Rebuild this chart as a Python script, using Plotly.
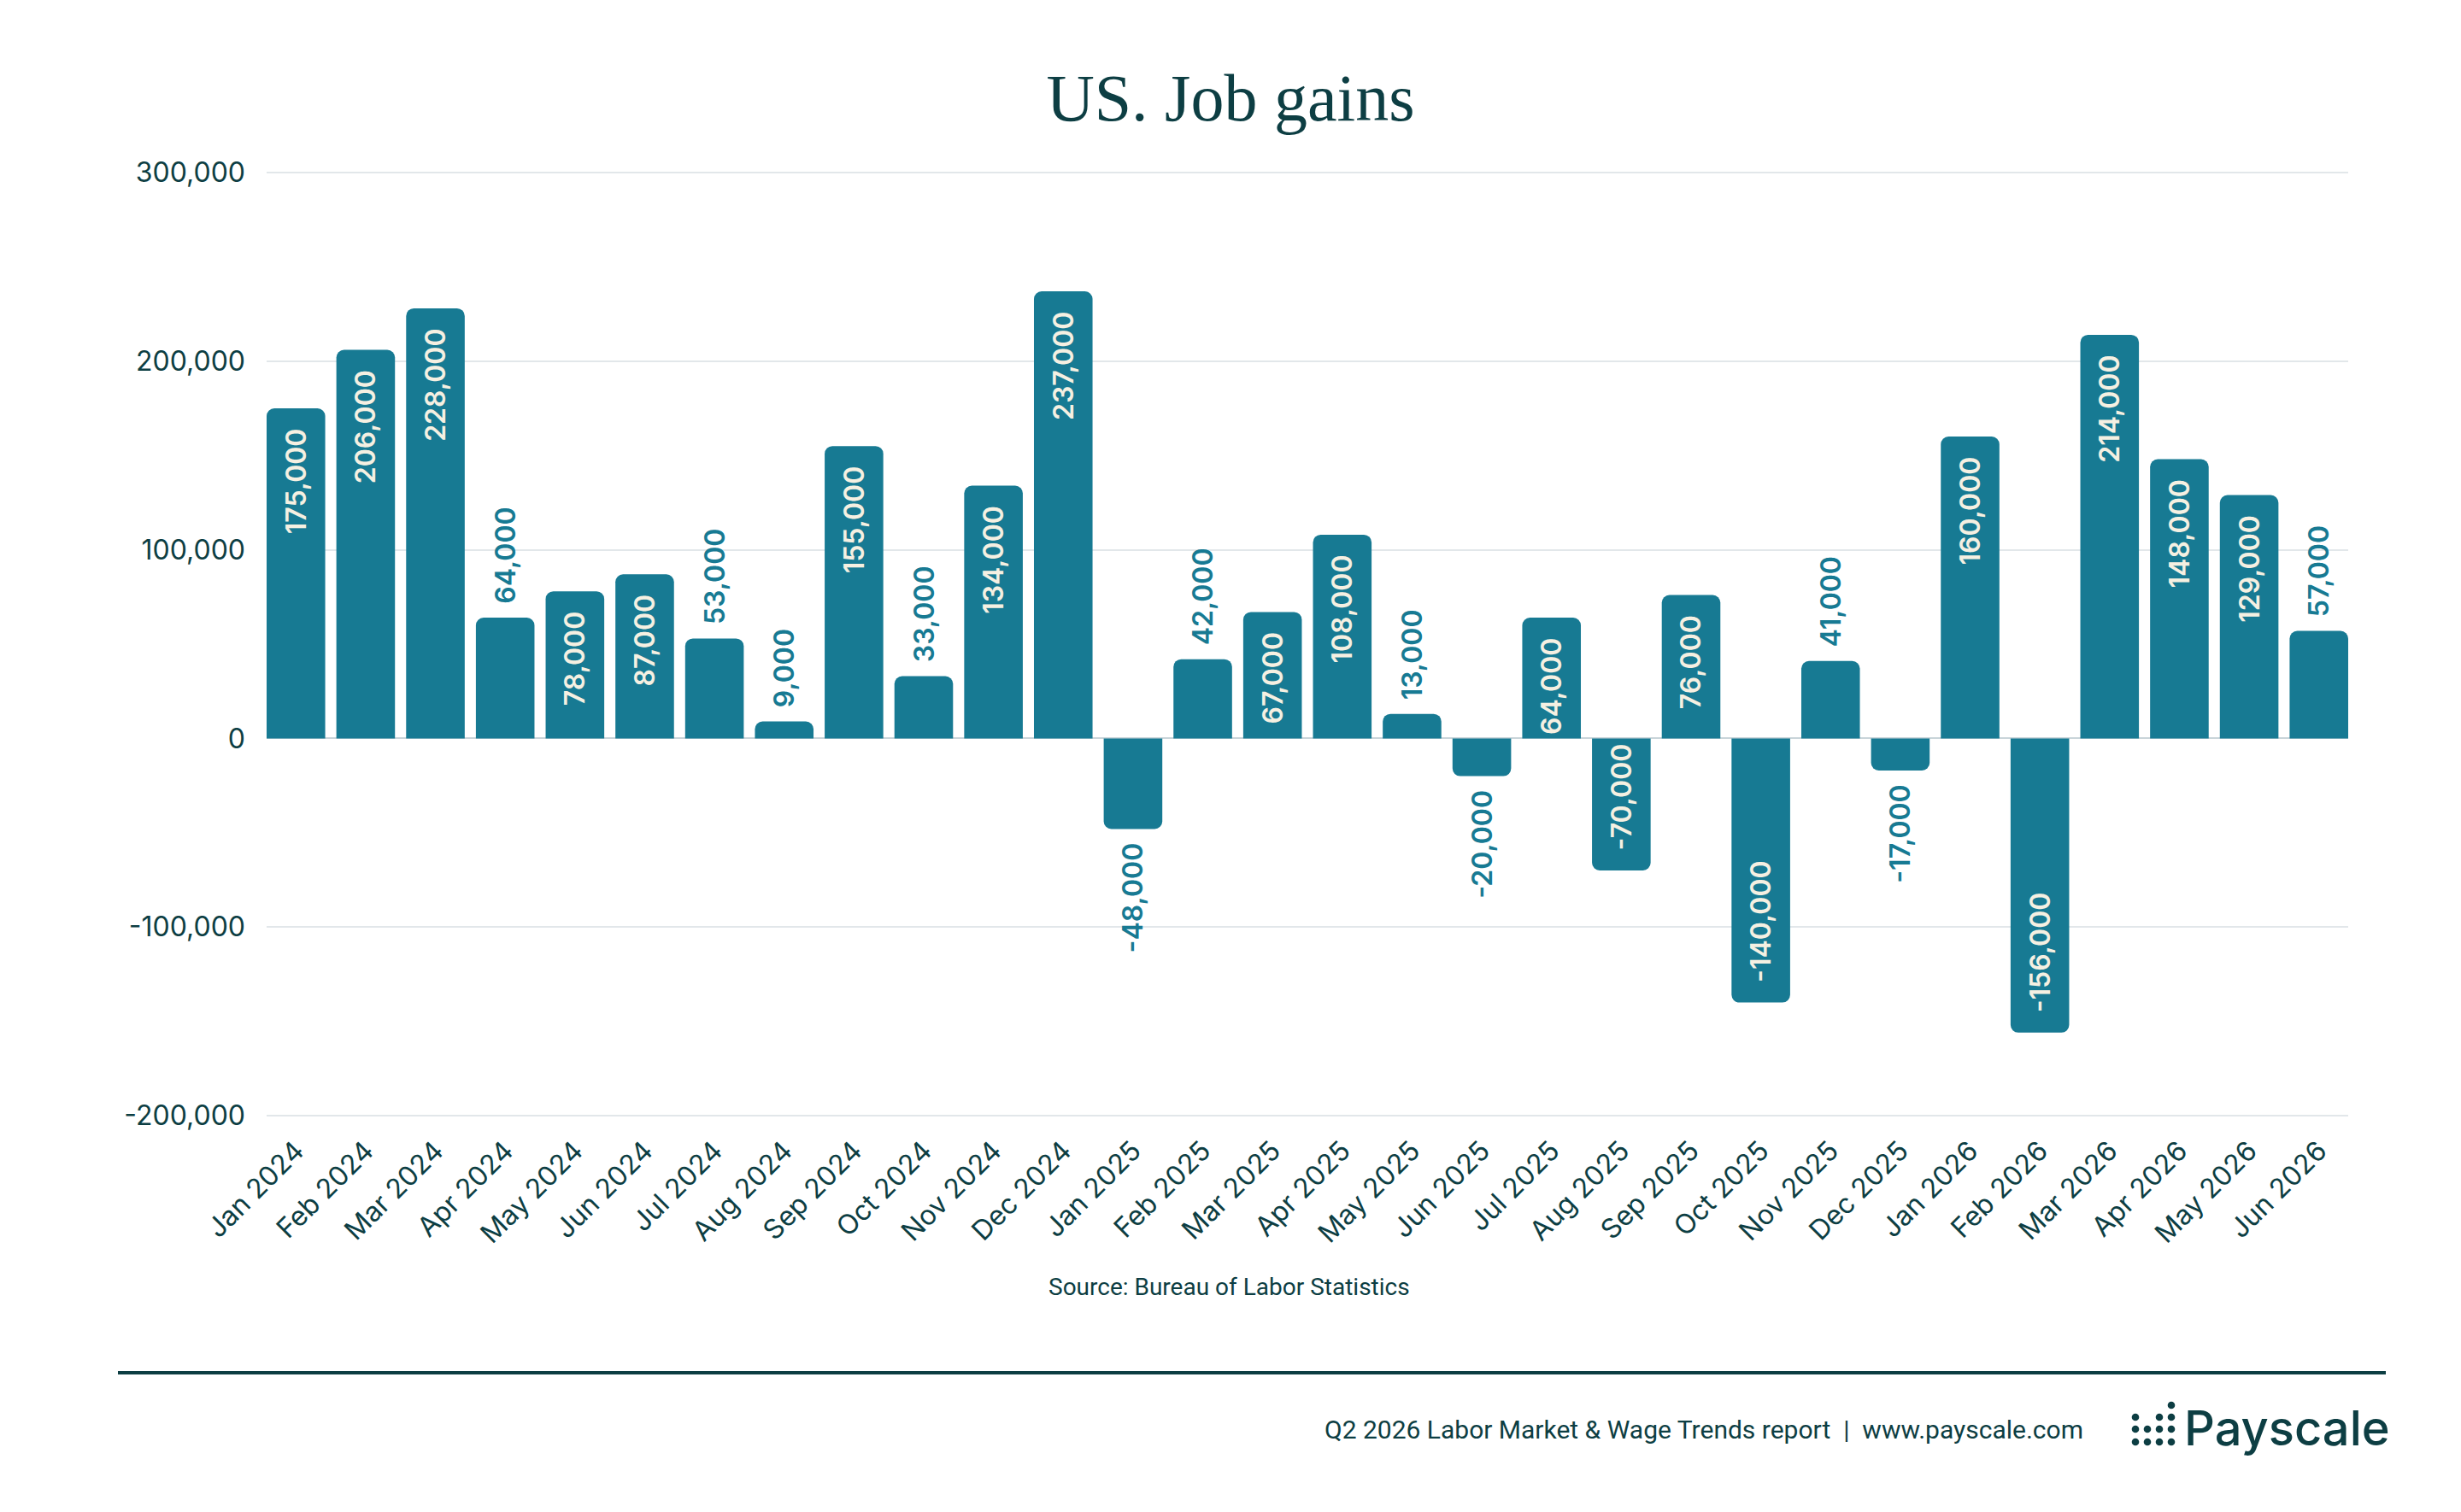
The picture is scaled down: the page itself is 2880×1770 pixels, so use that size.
import plotly.graph_objects as go

# ---------------- data ----------------
months = [
    "Jan 2024", "Feb 2024", "Mar 2024", "Apr 2024", "May 2024", "Jun 2024",
    "Jul 2024", "Aug 2024", "Sep 2024", "Oct 2024", "Nov 2024", "Dec 2024",
    "Jan 2025", "Feb 2025", "Mar 2025", "Apr 2025", "May 2025", "Jun 2025",
    "Jul 2025", "Aug 2025", "Sep 2025", "Oct 2025", "Nov 2025", "Dec 2025",
    "Jan 2026", "Feb 2026", "Mar 2026", "Apr 2026", "May 2026", "Jun 2026",
]
job_gains = [
    175000, 206000, 228000, 64000, 78000, 87000,
    53000, 9000, 155000, 33000, 134000, 237000,
    -48000, 42000, 67000, 108000, 13000, -20000,
    64000, -70000, 76000, -140000, 41000, -17000,
    160000, -156000, 214000, 148000, 129000, 57000,
]
y_tick_values = [-200000, -100000, 0, 100000, 200000, 300000]
y_tick_labels = [f"{v:,}" for v in y_tick_values]

title_text = "US. Job gains"
source_text = "Source: Bureau of Labor Statistics"
footer_text = "Q2 2026 Labor Market &amp; Wage Trends report  |  www.payscale.com"
brand_text = "Payscale"

# labels drawn outside the bar (as in the reference)
outside_labels = {"Apr 2024", "Jul 2024", "Aug 2024", "Oct 2024", "Jan 2025",
                  "Feb 2025", "May 2025", "Jun 2025", "Nov 2025", "Dec 2025",
                  "Jun 2026"}

# ---------------- style ----------------
W, H = 2880, 1770
Y_MIN, Y_MAX = -200000, 300000
TOP_PX, BOT_PX = 202, 1306          # pixel rows of Y_MAX and Y_MIN gridlines
EXTRA_PX = 3
PL, PR = 312, 2748
PT, PB = TOP_PX - EXTRA_PX, BOT_PX + EXTRA_PX
units_per_px = (Y_MAX - Y_MIN) / (BOT_PX - TOP_PX)
y_range = [Y_MIN - EXTRA_PX * units_per_px, Y_MAX + EXTRA_PX * units_per_px]

BAR = "#177a93"
CREAM = "#f5f0e2"
DARK = "#0d3e43"
GRID = "#e2e7ea"
NB = "\u00a0"
THIN = "\u2009"


def px(x):
    return (x - PL) / (PR - PL)


def py(y):
    return (PB - y) / (PB - PT)


positions = []
labels = []
for m, v in zip(months, job_gains):
    s = f"{v:,}"
    if m in outside_labels:
        positions.append("outside")
        s = (NB + THIN + s) if v >= 0 else (s + THIN + NB)
    else:
        positions.append("inside")
        s = (s + NB + NB) if v >= 0 else (NB + NB + s)
    labels.append(s)

fig = go.Figure()
fig.add_trace(go.Bar(
    x=months,
    y=job_gains,
    marker=dict(color=BAR, cornerradius=9, line=dict(width=0)),
    text=labels,
    textposition=positions,
    textangle=-90,
    insidetextanchor="end",
    constraintext="none",
    cliponaxis=False,
    insidetextfont=dict(family="Inter", size=32, color=CREAM, weight=600),
    outsidetextfont=dict(family="Inter", size=32, color=BAR, weight=600),
    hoverinfo="x+y",
))

shapes = [
    dict(type="line", xref="paper", yref="paper",
         x0=px(138), x1=px(2792), y0=py(1607), y1=py(1607),
         line=dict(color=DARK, width=4)),
]

# Payscale logo dots
dot_cols = [2499, 2513, 2527, 2541]
dot_rows = [1645, 1659, 1673, 1688]
dot_pattern = [
    (0, 3),
    (1, 0), (1, 2), (1, 3),
    (2, 0), (2, 1), (2, 2), (2, 3),
    (3, 0), (3, 1), (3, 2), (3, 3),
]
r = 4.3
for ri, ci in dot_pattern:
    cx, cy = dot_cols[ci], dot_rows[ri]
    shapes.append(dict(type="circle", xref="paper", yref="paper",
                       x0=px(cx - r), x1=px(cx + r), y0=py(cy + r), y1=py(cy - r),
                       fillcolor=DARK, line=dict(width=0)))

annotations = [
    dict(text=source_text, xref="paper", yref="paper", x=px(1438), y=py(1506),
         xanchor="center", yanchor="middle", showarrow=False,
         font=dict(family="Roboto", size=28, color=DARK)),
    dict(text=footer_text, xref="paper", yref="paper", x=px(2440), y=py(1673),
         xanchor="right", yanchor="middle", showarrow=False,
         font=dict(family="Roboto", size=30, color=DARK)),
    dict(text=brand_text, xref="paper", yref="paper", x=px(2554), y=py(1672),
         xanchor="left", yanchor="middle", showarrow=False,
         font=dict(family="Inter", size=56, color=DARK, weight=500)),
]

fig.update_layout(
    width=W, height=H,
    margin=dict(l=PL, r=W - PR, t=PT, b=H - PB, autoexpand=False),
    paper_bgcolor="white",
    plot_bgcolor="white",
    showlegend=False,
    bargap=0.16,
    title=dict(text=title_text, x=0.5, xref="container", xanchor="center",
               y=1 - 114 / H, yref="container", yanchor="middle",
               font=dict(family="Liberation Serif", size=78, color=DARK)),
    xaxis=dict(type="category", range=[-0.42, len(months) - 1 + 0.42],
               tickangle=-45, showgrid=False, zeroline=False, showline=False,
               ticks="", ticklabelstandoff=12,
               tickfont=dict(family="Inter", size=32, color=DARK)),
    yaxis=dict(range=y_range, tickvals=y_tick_values,
               ticktext=y_tick_labels, showgrid=True, gridcolor=GRID,
               gridwidth=2, zeroline=True, zerolinecolor="#c9d4d9",
               zerolinewidth=2, showline=False, ticks="",
               ticklabelstandoff=24,
               tickfont=dict(family="Inter", size=32, color=DARK)),
    shapes=shapes,
    annotations=annotations,
)

fig.write_html("out.html")
